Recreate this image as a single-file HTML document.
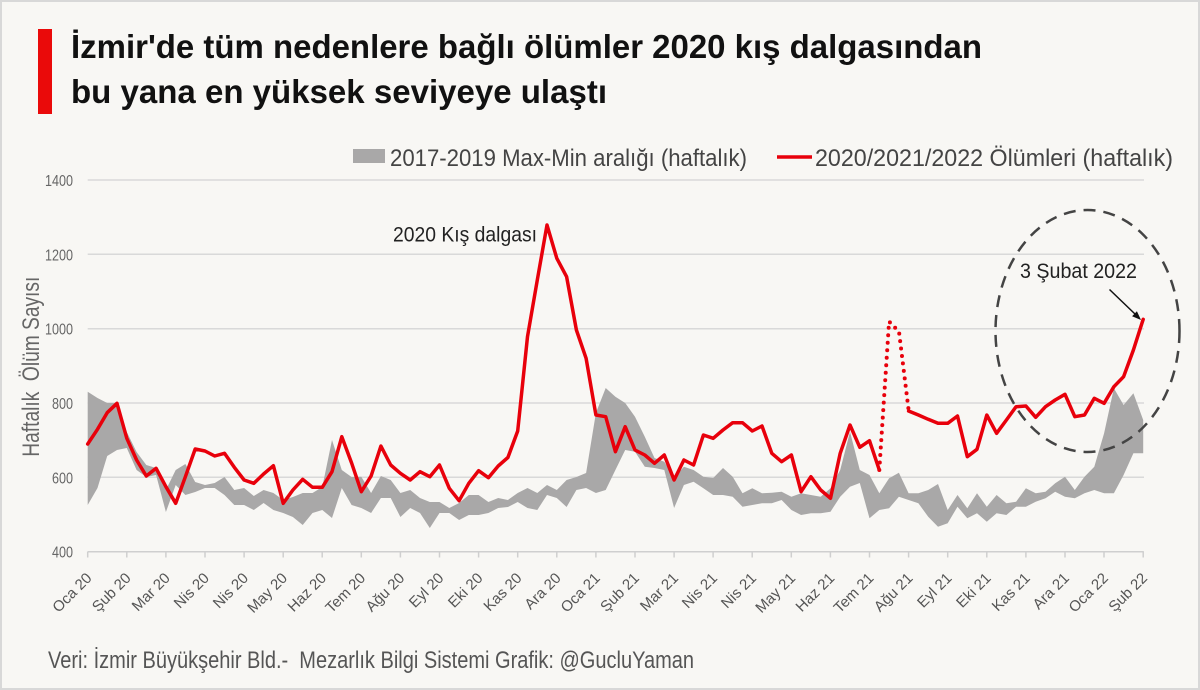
<!DOCTYPE html>
<html>
<head>
<meta charset="utf-8">
<style>
  html,body{margin:0;padding:0;background:#f8f7f4;}
  svg{display:block;}
  text{font-family:"Liberation Sans", "DejaVu Sans", sans-serif;}
</style>
</head>
<body>
<svg width="1200" height="690" viewBox="0 0 1200 690" xmlns="http://www.w3.org/2000/svg">
  <!-- background & border -->
  <rect x="0" y="0" width="1200" height="690" fill="#f8f7f4"/>
  <rect x="1" y="1" width="1198" height="688" fill="none" stroke="#d8d8d8" stroke-width="2"/>

  <!-- title -->
  <rect x="38" y="29" width="14" height="85" fill="#ea0a0a"/>
  <text x="71" y="58" font-size="33" font-weight="bold" fill="#111" textLength="911" lengthAdjust="spacingAndGlyphs">İzmir'de tüm nedenlere bağlı ölümler 2020 kış dalgasından</text>
  <text x="71" y="103" font-size="33" font-weight="bold" fill="#111" textLength="536" lengthAdjust="spacingAndGlyphs">bu yana en yüksek seviyeye ulaştı</text>

  <!-- legend -->
  <rect x="353" y="149" width="32" height="14" fill="#a9a8a8"/>
  <text x="390" y="166" font-size="24" fill="#444" textLength="357" lengthAdjust="spacingAndGlyphs">2017-2019 Max-Min aralığı (haftalık)</text>
  <line x1="777" y1="157" x2="812" y2="157" stroke="#e8000b" stroke-width="3.5"/>
  <text x="815" y="166" font-size="24" fill="#444" textLength="358" lengthAdjust="spacingAndGlyphs">2020/2021/2022 Ölümleri (haftalık)</text>

  <!-- gridlines -->
  <g stroke="#d9d9d9" stroke-width="1.5">
    <line x1="87.7" y1="180" x2="1144" y2="180"/>
    <line x1="87.7" y1="254.3" x2="1144" y2="254.3"/>
    <line x1="87.7" y1="328.7" x2="1144" y2="328.7"/>
    <line x1="87.7" y1="403" x2="1144" y2="403"/>
    <line x1="87.7" y1="477.3" x2="1144" y2="477.3"/>
    <line x1="87.7" y1="551.7" x2="1144" y2="551.7"/>
  </g>

  <!-- y tick labels -->
  <g font-size="16" fill="#666" text-anchor="end">
    <text x="73" y="186" textLength="28" lengthAdjust="spacingAndGlyphs">1400</text>
    <text x="73" y="260.3" textLength="28" lengthAdjust="spacingAndGlyphs">1200</text>
    <text x="73" y="334.7" textLength="28" lengthAdjust="spacingAndGlyphs">1000</text>
    <text x="73" y="409" textLength="21" lengthAdjust="spacingAndGlyphs">800</text>
    <text x="73" y="483.3" textLength="21" lengthAdjust="spacingAndGlyphs">600</text>
    <text x="73" y="557.7" textLength="21" lengthAdjust="spacingAndGlyphs">400</text>
  </g>

  <!-- y axis title -->
  <text transform="translate(39,366.7) rotate(-90)" x="0" y="0" font-size="24" fill="#666" text-anchor="middle" textLength="180" lengthAdjust="spacingAndGlyphs">Haftalık&#160; Ölüm Sayısı</text>

  <!-- gray band -->
  <polygon fill="#a9a8a8" points="
87.7,391.7 97.5,398 107.2,403 117,403 126.8,432 136.6,452 146.3,465 156.1,468 165.9,490 175.7,470 185.4,464 195.2,482 205,485 214.7,483 224.5,477 234.3,490 244.1,488 253.8,496 263.6,490 273.4,493 283.2,500 292.9,497 302.7,493 312.5,493 322.3,487 332,440 341.8,470 351.6,477 361.3,476.7 371.1,493 380.9,476 390.7,480 400.4,493 410.2,490 420,498 429.8,502 439.5,502 449.3,508 459.1,503 468.8,495 478.6,495 488.4,502 498.2,498 507.9,500 517.7,493 527.5,488 537.3,493 547,485 556.8,490 566.6,480 576.4,477 586.1,473 595.9,413 605.7,388 615.4,396.7 625.2,403 635,416.7 644.8,436.7 654.5,458 664.3,461.7 674.1,478 683.9,466.7 693.6,470 703.4,476.7 713.2,478 723,468 732.7,476.7 742.5,493.3 752.3,488.3 762,493.3 771.8,492.7 781.6,491.7 791.4,496.7 801.1,493.3 810.9,495 820.7,496.7 830.5,488.3 840.2,470 850,431.7 859.8,470 869.5,475 879.3,493.3 889.1,478.3 898.9,472.7 908.6,493.3 918.4,493.3 928.2,490 938,484 947.7,510 957.5,495 967.3,508.3 977,493.3 986.8,506.7 996.6,495 1006.4,503.3 1016.1,501.7 1025.9,488.3 1035.7,493.3 1045.5,491.7 1055.2,483.3 1065,476.7 1074.8,490 1084.5,476.7 1094.3,466.7 1104.1,433.3 1113.9,388.3 1123.6,405 1133.4,393.3 1143.2,420
1143.2,453.3 1133.4,453.3 1123.6,475 1113.9,493.3 1104.1,493.3 1094.3,490 1084.5,493.3 1074.8,498.3 1065,496.7 1055.2,491.7 1045.5,498.3 1035.7,501.7 1025.9,506.7 1016.1,506.7 1006.4,515 996.6,513.3 986.8,521.7 977,513.3 967.3,518.3 957.5,506.7 947.7,523.3 938,526.7 928.2,516.7 918.4,503.3 908.6,500 898.9,496.7 889.1,508.3 879.3,510 869.5,518.3 859.8,483 850,486.7 840.2,496.7 830.5,511.7 820.7,513.3 810.9,513.3 801.1,515 791.4,510 781.6,500 771.8,503.3 762,503.3 752.3,505 742.5,506.7 732.7,496.7 723,495 713.2,495 703.4,488.3 693.6,481.7 683.9,485 674.1,508 664.3,470 654.5,468 644.8,466.7 635,451.7 625.2,450 615.4,470 605.7,490 595.9,493 586.1,488 576.4,490 566.6,507 556.8,498 547,495 537.3,510 527.5,508 517.7,502 507.9,507 498.2,508 488.4,513 478.6,515 468.8,515 459.1,520 449.3,513 439.5,513 429.8,528 420,513 410.2,508 400.4,517 390.7,498 380.9,498 371.1,513 361.3,508 351.6,505 341.8,488 332,518 322.3,510 312.5,513 302.7,525 292.9,517 283.2,513 273.4,510 263.6,503 253.8,510 244.1,505 234.3,505 224.5,495 214.7,488 205,488 195.2,492 185.4,495 175.7,485 165.9,512 156.1,475 146.3,477 136.6,470 126.8,448 117,450 107.2,456 97.5,488 87.7,505"/>

  <!-- x axis -->
  <g stroke="#cfcfcf" stroke-width="1.5">
    <line x1="87.7" y1="551.7" x2="1143.2" y2="551.7"/>
    <line x1="87.7" y1="551.7" x2="87.7" y2="557.5"/>
    <line x1="126.8" y1="551.7" x2="126.8" y2="557.5"/>
    <line x1="165.9" y1="551.7" x2="165.9" y2="557.5"/>
    <line x1="205.0" y1="551.7" x2="205.0" y2="557.5"/>
    <line x1="244.1" y1="551.7" x2="244.1" y2="557.5"/>
    <line x1="283.2" y1="551.7" x2="283.2" y2="557.5"/>
    <line x1="322.2" y1="551.7" x2="322.2" y2="557.5"/>
    <line x1="361.3" y1="551.7" x2="361.3" y2="557.5"/>
    <line x1="400.4" y1="551.7" x2="400.4" y2="557.5"/>
    <line x1="439.5" y1="551.7" x2="439.5" y2="557.5"/>
    <line x1="478.6" y1="551.7" x2="478.6" y2="557.5"/>
    <line x1="517.7" y1="551.7" x2="517.7" y2="557.5"/>
    <line x1="556.8" y1="551.7" x2="556.8" y2="557.5"/>
    <line x1="595.9" y1="551.7" x2="595.9" y2="557.5"/>
    <line x1="635.0" y1="551.7" x2="635.0" y2="557.5"/>
    <line x1="674.1" y1="551.7" x2="674.1" y2="557.5"/>
    <line x1="713.1" y1="551.7" x2="713.1" y2="557.5"/>
    <line x1="752.2" y1="551.7" x2="752.2" y2="557.5"/>
    <line x1="791.3" y1="551.7" x2="791.3" y2="557.5"/>
    <line x1="830.4" y1="551.7" x2="830.4" y2="557.5"/>
    <line x1="869.5" y1="551.7" x2="869.5" y2="557.5"/>
    <line x1="908.6" y1="551.7" x2="908.6" y2="557.5"/>
    <line x1="947.7" y1="551.7" x2="947.7" y2="557.5"/>
    <line x1="986.8" y1="551.7" x2="986.8" y2="557.5"/>
    <line x1="1025.9" y1="551.7" x2="1025.9" y2="557.5"/>
    <line x1="1065.0" y1="551.7" x2="1065.0" y2="557.5"/>
    <line x1="1104.0" y1="551.7" x2="1104.0" y2="557.5"/>
    <line x1="1143.2" y1="551.7" x2="1143.2" y2="557.5"/>
  </g>

  <!-- x tick labels -->
  <g font-size="15" fill="#555" text-anchor="end">
    <text transform="translate(92.7,579) rotate(-45)">Oca 20</text>
    <text transform="translate(131.8,579) rotate(-45)">Şub 20</text>
    <text transform="translate(170.9,579) rotate(-45)">Mar 20</text>
    <text transform="translate(210.0,579) rotate(-45)">Nis 20</text>
    <text transform="translate(249.1,579) rotate(-45)">Nis 20</text>
    <text transform="translate(288.2,579) rotate(-45)">May 20</text>
    <text transform="translate(327.2,579) rotate(-45)">Haz 20</text>
    <text transform="translate(366.3,579) rotate(-45)">Tem 20</text>
    <text transform="translate(405.4,579) rotate(-45)">Ağu 20</text>
    <text transform="translate(444.5,579) rotate(-45)">Eyl 20</text>
    <text transform="translate(483.6,579) rotate(-45)">Eki 20</text>
    <text transform="translate(522.7,579) rotate(-45)">Kas 20</text>
    <text transform="translate(561.8,579) rotate(-45)">Ara 20</text>
    <text transform="translate(600.9,579) rotate(-45)">Oca 21</text>
    <text transform="translate(640.0,579) rotate(-45)">Şub 21</text>
    <text transform="translate(679.1,579) rotate(-45)">Mar 21</text>
    <text transform="translate(718.1,579) rotate(-45)">Nis 21</text>
    <text transform="translate(757.2,579) rotate(-45)">Nis 21</text>
    <text transform="translate(796.3,579) rotate(-45)">May 21</text>
    <text transform="translate(835.4,579) rotate(-45)">Haz 21</text>
    <text transform="translate(874.5,579) rotate(-45)">Tem 21</text>
    <text transform="translate(913.6,579) rotate(-45)">Ağu 21</text>
    <text transform="translate(952.7,579) rotate(-45)">Eyl 21</text>
    <text transform="translate(991.8,579) rotate(-45)">Eki 21</text>
    <text transform="translate(1030.9,579) rotate(-45)">Kas 21</text>
    <text transform="translate(1070.0,579) rotate(-45)">Ara 21</text>
    <text transform="translate(1109.0,579) rotate(-45)">Oca 22</text>
    <text transform="translate(1148.2,579) rotate(-45)">Şub 22</text>
  </g>

  <!-- red series -->
  <g fill="none" stroke="#e8000b" stroke-linejoin="round" stroke-linecap="round">
    <polyline stroke-width="3.5" points="87.7,444 97.5,429.3 107.2,412.7 117,403.3 126.8,438.3 136.6,460 146.3,476 156.1,468.3 165.9,486.7 175.7,503.3 185.4,476.7 195.2,449 205,451 214.7,456 224.5,453.3 234.3,467.3 244.1,480 253.8,483.3 263.6,474 273.4,465.7 283.2,503.3 292.9,490 302.7,479.3 312.5,487.3 322.3,487.3 332,471.7 341.8,436.7 351.6,463 361.3,491.7 371.1,476 380.9,446 390.7,465 400.4,473.3 410.2,480 420,471.7 429.8,476.7 439.5,465 449.3,488.3 459.1,500.7 468.8,483.3 478.6,470.7 488.4,477.7 498.2,466 507.9,457.5 517.7,431 527.5,336.7 537.3,280 547,225 556.8,258.3 566.6,276.7 576.4,330 586.1,358.3 595.9,415 605.7,416.7 615.4,451.7 625.2,426.7 635,450 644.8,455 654.5,463.3 664.3,455 674.1,480 683.9,460 693.6,465 703.4,435 713.2,438.3 723,430 732.7,422.7 742.5,422.7 752.3,431 762,426 771.8,453.3 781.6,461.7 791.4,455 801.1,491.7 810.9,476.7 820.7,490 830.5,498.3 840.2,453.3 850,425 859.8,447.3 869.5,440.7 879.3,470"/>
    <polyline stroke-width="4" stroke-dasharray="0 7.5" points="879.3,470 889.1,321.5 899,331.7 908.6,410"/>
    <polyline stroke-width="3.5" points="908.6,411 918.4,415 928.2,419.3 938,423.3 947.7,423.3 957.5,416 967.3,456.7 977,449.3 986.8,415 996.6,433.3 1006.4,420 1016.1,406.7 1025.9,406 1035.7,417.3 1045.5,406.7 1055.2,400 1065,394.3 1074.8,416.7 1084.5,415 1094.3,398.3 1104.1,403.3 1113.9,386.7 1123.6,376.7 1133.4,350 1143.2,319.3"/>
  </g>

  <!-- annotations -->
  <text x="393" y="241.5" font-size="21" fill="#222" textLength="144" lengthAdjust="spacingAndGlyphs">2020 Kış dalgası</text>
  <ellipse cx="1087.5" cy="331" rx="92" ry="121" fill="none" stroke="#444" stroke-width="2.5" stroke-dasharray="12 8"/>
  <text x="1020" y="278" font-size="21" fill="#222" textLength="117" lengthAdjust="spacingAndGlyphs">3 Şubat 2022</text>
  <line x1="1109.5" y1="289.5" x2="1135" y2="314" stroke="#111" stroke-width="1.5"/>
  <polygon points="1141,320 1132.1,316.3 1136.9,311.3" fill="#111"/>

  <!-- footer -->
  <text x="48" y="668" font-size="24" fill="#555" textLength="646" lengthAdjust="spacingAndGlyphs">Veri: İzmir Büyükşehir Bld.-&#160; Mezarlık Bilgi Sistemi Grafik: @GucluYaman</text>
</svg>
</body>
</html>
